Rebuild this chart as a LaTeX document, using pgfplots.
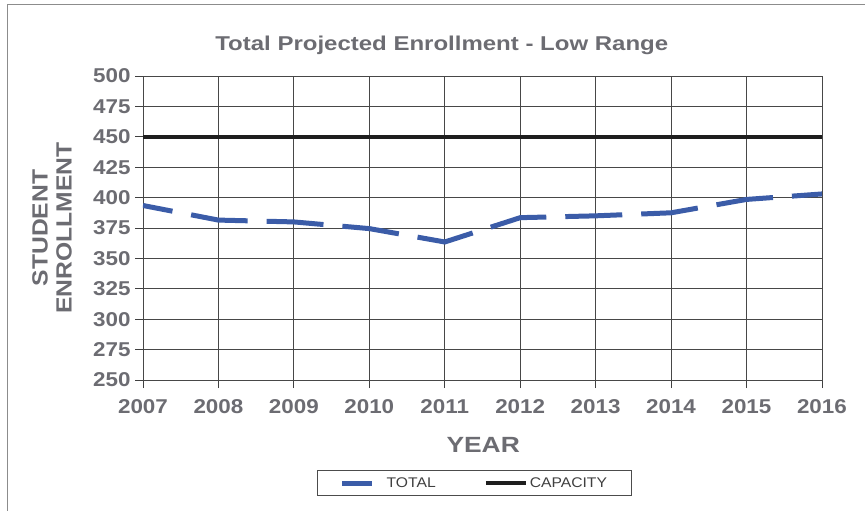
\documentclass[border=0pt]{standalone}
\usepackage{fontspec}
\setmainfont{Liberation Sans}
\newfontfamily\widefont[FakeStretch=1.12]{Liberation Sans}
\newfontfamily\widerfont[FakeStretch=1.2]{Liberation Sans}
\usepackage{pgfplots}
\pgfplotsset{compat=1.18}
\definecolor{txtgray}{HTML}{6C6C72}
\definecolor{linblue}{HTML}{3B5CA8}
\definecolor{capblack}{HTML}{1E1E1E}
\begin{document}
\begin{tikzpicture}
\useasboundingbox (-143pt,-131pt) rectangle (722pt,380pt);
\draw[color=gray!90,line width=1pt] (-135pt,-131pt) -- (-135pt,375pt) -- (722pt,375pt);
\begin{axis}[
  scale only axis,
  width=679pt, height=304pt,
  xmin=2007, xmax=2016, ymin=250, ymax=500,
  xtick={2007,...,2016},
  ytick={250,275,...,500},
  /pgf/number format/assume math mode=true,
  xticklabel style={/pgf/number format/1000 sep={}, font=\widefont\bfseries\fontsize{20}{20}\selectfont, text=txtgray, yshift=-8pt},
  yticklabel style={font=\widefont\bfseries\fontsize{20}{20}\selectfont, text=txtgray, xshift=-1pt},
  tick align=outside, major tick length=8pt,
  xtick pos=bottom, ytick pos=left,
  tick style={color=black!75, line width=0.8pt},
  grid=major,
  major grid style={color=black!72, line width=0.8pt},
  axis line style={color=black!72, line width=0.8pt},
  title={Total Projected Enrollment - Low Range},
  title style={font=\widerfont\bfseries\fontsize{20}{20}\selectfont, text=txtgray, at={(axis description cs:0.44,1)}, anchor=south, yshift=12pt},
  xlabel={YEAR},
  xlabel style={font=\widerfont\bfseries\fontsize{22}{22}\selectfont, text=txtgray, at={(axis description cs:0.501,0)}, anchor=center, yshift=-65pt},
  ylabel={STUDENT\\ENROLLMENT},
  ylabel style={align=center, font=\widefont\bfseries\fontsize{22}{24}\selectfont, text=txtgray, at={(axis description cs:-0.134,0.5)}, anchor=center},
  legend style={at={(axis description cs:0.488,0)}, anchor=north, yshift=-90pt, draw=black!70, line width=0.8pt, font=\widefont\fontsize{14}{14}\selectfont, text=black!75, inner xsep=22pt, inner ysep=5pt, /tikz/every even column/.append style={column sep=46pt}},
  legend image code/.code={\draw[#1] (0pt,0pt) -- (40pt,0pt);},
  legend columns=2,
  legend cell align=left,
]
\addplot[color=linblue, line width=5pt, dash pattern=on 57pt off 19pt, dash phase=27pt, no markers] coordinates {
(2007,393.5) (2008,381.5) (2009,380) (2010,374.5) (2011,363.5) (2012,383.5) (2013,385) (2014,387.5) (2015,398.5) (2016,403)
};
\addlegendentry{TOTAL}
\addplot[color=capblack, line width=4pt, no markers] coordinates {
(2007,450) (2008,450) (2009,450) (2010,450) (2011,450) (2012,450) (2013,450) (2014,450) (2015,450) (2016,450)
};
\addlegendentry{CAPACITY}
\end{axis}
\end{tikzpicture}
\end{document}
